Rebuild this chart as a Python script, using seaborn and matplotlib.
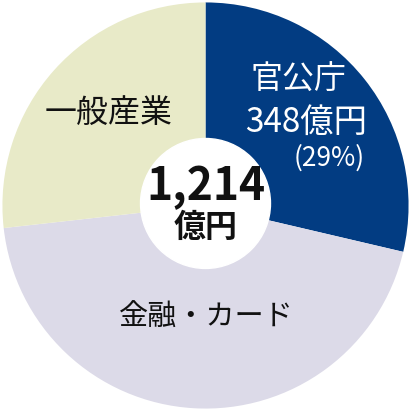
import matplotlib
matplotlib.use("Agg")
import matplotlib.pyplot as plt
import seaborn as sns

# data
segments = ['官公庁', '金融・カード', '一般産業']
amounts = [348, 541, 325]   # 億円, total 1,214
colors = ['#023c82', '#dcdae8', '#e8eac8']
total_label = '1,214'
unit = '億円'

sns.set_theme(style="white")
plt.rcParams['font.family'] = ['Noto Sans CJK JP', 'DejaVu Sans']

fig = plt.figure(figsize=(4.11, 4.11), dpi=100)
ax = fig.add_axes([0, 0, 1, 1])

ax.pie(amounts, colors=colors, startangle=90, counterclock=False,
       radius=1.0, wedgeprops=dict(linewidth=0))
ax.add_patch(plt.Circle((0, 0.01), 0.32, color='white', zorder=3))

ax.set_xlim(-1.012, 1.012)
ax.set_ylim(-1.012, 1.012)
ax.set_aspect('equal')
ax.axis('off')

pct = round(amounts[0] / sum(amounts) * 100)

# labels
ax.text(0.456, 0.618, segments[0], color='white', fontsize=23,
        ha='center', va='center')
ax.text(0.495, 0.411, f'{amounts[0]}{unit}', color='white', fontsize=24,
        ha='center', va='center')
ax.text(0.608, 0.234, f'({pct}%)', color='white', fontsize=19,
        ha='center', va='center')
ax.text(-0.475, 0.456, segments[2], color='#111111', fontsize=23,
        ha='center', va='center')
ax.text(0.002, -0.554, segments[1], color='#111111', fontsize=21,
        ha='center', va='center')

ax.text(0, 0.091, total_label, color='#111111', fontsize=32,
        fontweight='bold', ha='center', va='center', zorder=4)
ax.text(0, -0.111, unit, color='#111111', fontsize=23,
        fontweight='bold', ha='center', va='center', zorder=4)

fig.savefig('out.png', dpi=100)
